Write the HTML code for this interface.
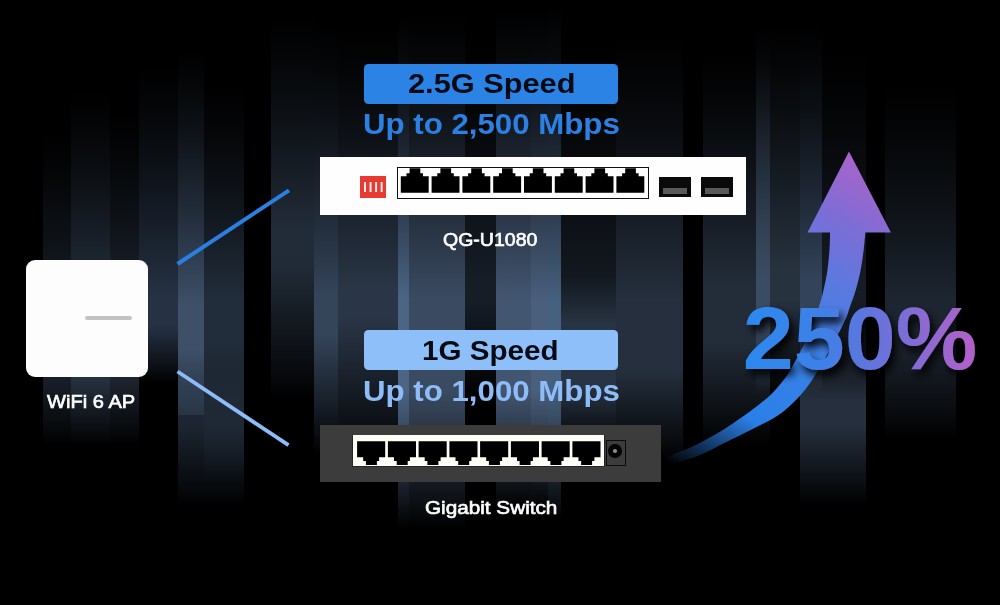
<!DOCTYPE html>
<html><head><meta charset="utf-8"><title>2.5G vs 1G Speed</title>
<style>
html,body{margin:0;padding:0;background:#000;}
body{width:1000px;height:605px;overflow:hidden;position:relative;font-family:"Liberation Sans",sans-serif;}
.bar{position:absolute;}
.abs{position:absolute;}
.lbl{position:absolute;transform-origin:0 0;color:#fff;font-size:19px;line-height:19px;white-space:nowrap;-webkit-text-stroke:0.65px #fff;}
.pill{position:absolute;left:363.5px;width:254.7px;border-radius:4.5px;}
.ptxt{position:absolute;font-weight:bold;white-space:nowrap;transform-origin:0 0;}
svg{position:absolute;left:0;top:0;}
</style></head><body>
<div id="bg">
<div class="bar" style="left:43px;width:28px;top:130px;height:315px;background:linear-gradient(to bottom,rgba(24,31,41,0.000) 0.0px,rgba(24,31,41,0.097) 28.3px,rgba(24,31,41,0.240) 56.7px,rgba(24,31,41,0.406) 85.0px,rgba(24,31,41,0.590) 113.3px,rgba(24,31,41,0.789) 141.7px,rgba(24,31,41,1.000) 170.0px,rgba(24,31,41,1) 250.0px,rgba(24,31,41,0.841) 260.8px,rgba(24,31,41,0.680) 271.7px,rgba(24,31,41,0.518) 282.5px,rgba(24,31,41,0.352) 293.3px,rgba(24,31,41,0.182) 304.2px,rgba(24,31,41,0.000) 315.0px)"></div>
<div class="bar" style="left:71px;width:39px;top:90px;height:355px;background:linear-gradient(to bottom,rgba(38,49,63,0.000) 0.0px,rgba(38,49,63,0.097) 35.0px,rgba(38,49,63,0.240) 70.0px,rgba(38,49,63,0.406) 105.0px,rgba(38,49,63,0.590) 140.0px,rgba(38,49,63,0.789) 175.0px,rgba(38,49,63,1.000) 210.0px,rgba(38,49,63,1) 290.0px,rgba(38,49,63,0.841) 300.8px,rgba(38,49,63,0.680) 311.7px,rgba(38,49,63,0.518) 322.5px,rgba(38,49,63,0.352) 333.3px,rgba(38,49,63,0.182) 344.2px,rgba(38,49,63,0.000) 355.0px)"></div>
<div class="bar" style="left:110px;width:29px;top:110px;height:335px;background:linear-gradient(to bottom,rgba(28,36,47,0.000) 0.0px,rgba(28,36,47,0.097) 31.7px,rgba(28,36,47,0.240) 63.3px,rgba(28,36,47,0.406) 95.0px,rgba(28,36,47,0.590) 126.7px,rgba(28,36,47,0.789) 158.3px,rgba(28,36,47,1.000) 190.0px,rgba(28,36,47,1) 270.0px,rgba(28,36,47,0.841) 280.8px,rgba(28,36,47,0.680) 291.7px,rgba(28,36,47,0.518) 302.5px,rgba(28,36,47,0.352) 313.3px,rgba(28,36,47,0.182) 324.2px,rgba(28,36,47,0.000) 335.0px)"></div>
<div class="bar" style="left:139px;width:39px;top:65px;height:318px;background:linear-gradient(to bottom,rgba(38,50,68,0.000) 0.0px,rgba(38,50,68,0.097) 39.2px,rgba(38,50,68,0.240) 78.3px,rgba(38,50,68,0.406) 117.5px,rgba(38,50,68,0.590) 156.7px,rgba(38,50,68,0.789) 195.8px,rgba(38,50,68,1.000) 235.0px,rgba(38,50,68,1) 260.0px,rgba(38,50,68,0.841) 269.7px,rgba(38,50,68,0.680) 279.3px,rgba(38,50,68,0.518) 289.0px,rgba(38,50,68,0.352) 298.7px,rgba(38,50,68,0.182) 308.3px,rgba(38,50,68,0.000) 318.0px)"></div>
<div class="bar" style="left:178px;width:66px;top:300px;height:205px;background:linear-gradient(to bottom,rgba(28,37,49,0.000) 0.0px,rgba(28,37,49,0.097) 16.7px,rgba(28,37,49,0.240) 33.3px,rgba(28,37,49,0.406) 50.0px,rgba(28,37,49,0.590) 66.7px,rgba(28,37,49,0.789) 83.3px,rgba(28,37,49,1.000) 100.0px,rgba(28,37,49,1) 125.0px,rgba(28,37,49,0.841) 138.3px,rgba(28,37,49,0.680) 151.7px,rgba(28,37,49,0.518) 165.0px,rgba(28,37,49,0.352) 178.3px,rgba(28,37,49,0.182) 191.7px,rgba(28,37,49,0.000) 205.0px)"></div>
<div class="bar" style="left:178px;width:26px;top:50px;height:365px;background:linear-gradient(to bottom,rgba(61,80,104,0.000) 0.0px,rgba(61,80,104,0.097) 42.5px,rgba(61,80,104,0.240) 85.0px,rgba(61,80,104,0.406) 127.5px,rgba(61,80,104,0.590) 170.0px,rgba(61,80,104,0.789) 212.5px,rgba(61,80,104,1.000) 255.0px,rgba(61,80,104,1) 300.0px,rgba(61,80,104,0.841) 316.7px,rgba(61,80,104,0.680) 333.3px,rgba(61,80,104,0.518) 350.0px,rgba(61,80,104,0.352) 366.7px,rgba(61,80,104,0.182) 383.3px,rgba(61,80,104,0.000) 400.0px)"></div>
<div class="bar" style="left:204px;width:40px;top:85px;height:395px;background:linear-gradient(to bottom,rgba(34,45,59,0.000) 0.0px,rgba(34,45,59,0.097) 35.8px,rgba(34,45,59,0.240) 71.7px,rgba(34,45,59,0.406) 107.5px,rgba(34,45,59,0.590) 143.3px,rgba(34,45,59,0.789) 179.2px,rgba(34,45,59,1.000) 215.0px,rgba(34,45,59,1) 255.0px,rgba(34,45,59,0.841) 278.3px,rgba(34,45,59,0.680) 301.7px,rgba(34,45,59,0.518) 325.0px,rgba(34,45,59,0.352) 348.3px,rgba(34,45,59,0.182) 371.7px,rgba(34,45,59,0.000) 395.0px)"></div>
<div class="bar" style="left:271px;width:43px;top:15px;height:385px;background:linear-gradient(to bottom,rgba(34,44,57,0.000) 0.0px,rgba(34,44,57,0.097) 35.8px,rgba(34,44,57,0.240) 71.7px,rgba(34,44,57,0.406) 107.5px,rgba(34,44,57,0.590) 143.3px,rgba(34,44,57,0.789) 179.2px,rgba(34,44,57,1.000) 215.0px,rgba(34,44,57,1) 245.0px,rgba(34,44,57,0.841) 268.3px,rgba(34,44,57,0.680) 291.7px,rgba(34,44,57,0.518) 315.0px,rgba(34,44,57,0.352) 338.3px,rgba(34,44,57,0.182) 361.7px,rgba(34,44,57,0.000) 385.0px)"></div>
<div class="bar" style="left:314px;width:24px;top:25px;height:430px;background:linear-gradient(to bottom,rgba(52,68,89,0.000) 0.0px,rgba(52,68,89,0.097) 45.0px,rgba(52,68,89,0.240) 90.0px,rgba(52,68,89,0.406) 135.0px,rgba(52,68,89,0.590) 180.0px,rgba(52,68,89,0.789) 225.0px,rgba(52,68,89,1.000) 270.0px,rgba(52,68,89,1) 310.0px,rgba(52,68,89,0.841) 330.0px,rgba(52,68,89,0.680) 350.0px,rgba(52,68,89,0.518) 370.0px,rgba(52,68,89,0.352) 390.0px,rgba(52,68,89,0.182) 410.0px,rgba(52,68,89,0.000) 430.0px)"></div>
<div class="bar" style="left:338px;width:60px;top:30px;height:435px;background:linear-gradient(to bottom,rgba(42,54,71,0.000) 0.0px,rgba(42,54,71,0.097) 43.3px,rgba(42,54,71,0.240) 86.7px,rgba(42,54,71,0.406) 130.0px,rgba(42,54,71,0.590) 173.3px,rgba(42,54,71,0.789) 216.7px,rgba(42,54,71,1.000) 260.0px,rgba(42,54,71,1) 285.0px,rgba(42,54,71,0.841) 310.0px,rgba(42,54,71,0.680) 335.0px,rgba(42,54,71,0.518) 360.0px,rgba(42,54,71,0.352) 385.0px,rgba(42,54,71,0.182) 410.0px,rgba(42,54,71,0.000) 435.0px)"></div>
<div class="bar" style="left:398px;width:11px;top:15px;height:513px;background:linear-gradient(to bottom,rgba(76,101,133,0.000) 0.0px,rgba(76,101,133,0.097) 47.5px,rgba(76,101,133,0.240) 95.0px,rgba(76,101,133,0.406) 142.5px,rgba(76,101,133,0.590) 190.0px,rgba(76,101,133,0.789) 237.5px,rgba(76,101,133,1.000) 285.0px,rgba(76,101,133,1) 375.0px,rgba(76,101,133,0.841) 398.0px,rgba(76,101,133,0.680) 421.0px,rgba(76,101,133,0.518) 444.0px,rgba(76,101,133,0.352) 467.0px,rgba(76,101,133,0.182) 490.0px,rgba(76,101,133,0.000) 513.0px)"></div>
<div class="bar" style="left:409px;width:56px;top:15px;height:513px;background:linear-gradient(to bottom,rgba(58,75,97,0.000) 0.0px,rgba(58,75,97,0.097) 47.5px,rgba(58,75,97,0.240) 95.0px,rgba(58,75,97,0.406) 142.5px,rgba(58,75,97,0.590) 190.0px,rgba(58,75,97,0.789) 237.5px,rgba(58,75,97,1.000) 285.0px,rgba(58,75,97,1) 375.0px,rgba(58,75,97,0.841) 398.0px,rgba(58,75,97,0.680) 421.0px,rgba(58,75,97,0.518) 444.0px,rgba(58,75,97,0.352) 467.0px,rgba(58,75,97,0.182) 490.0px,rgba(58,75,97,0.000) 513.0px)"></div>
<div class="bar" style="left:465px;width:31px;top:40px;height:360px;background:linear-gradient(to bottom,rgba(22,29,39,0.000) 0.0px,rgba(22,29,39,0.097) 40.0px,rgba(22,29,39,0.240) 80.0px,rgba(22,29,39,0.406) 120.0px,rgba(22,29,39,0.590) 160.0px,rgba(22,29,39,0.789) 200.0px,rgba(22,29,39,1.000) 240.0px,rgba(22,29,39,1) 260.0px,rgba(22,29,39,0.841) 276.7px,rgba(22,29,39,0.680) 293.3px,rgba(22,29,39,0.518) 310.0px,rgba(22,29,39,0.352) 326.7px,rgba(22,29,39,0.182) 343.3px,rgba(22,29,39,0.000) 360.0px)"></div>
<div class="bar" style="left:496px;width:35px;top:10px;height:498px;background:linear-gradient(to bottom,rgba(67,86,113,0.000) 0.0px,rgba(67,86,113,0.097) 48.3px,rgba(67,86,113,0.240) 96.7px,rgba(67,86,113,0.406) 145.0px,rgba(67,86,113,0.590) 193.3px,rgba(67,86,113,0.789) 241.7px,rgba(67,86,113,1.000) 290.0px,rgba(67,86,113,1) 380.0px,rgba(67,86,113,0.841) 399.7px,rgba(67,86,113,0.680) 419.3px,rgba(67,86,113,0.518) 439.0px,rgba(67,86,113,0.352) 458.7px,rgba(67,86,113,0.182) 478.3px,rgba(67,86,113,0.000) 498.0px)"></div>
<div class="bar" style="left:531px;width:17px;top:10px;height:498px;background:linear-gradient(to bottom,rgba(74,95,124,0.000) 0.0px,rgba(74,95,124,0.097) 48.3px,rgba(74,95,124,0.240) 96.7px,rgba(74,95,124,0.406) 145.0px,rgba(74,95,124,0.590) 193.3px,rgba(74,95,124,0.789) 241.7px,rgba(74,95,124,1.000) 290.0px,rgba(74,95,124,1) 380.0px,rgba(74,95,124,0.841) 399.7px,rgba(74,95,124,0.680) 419.3px,rgba(74,95,124,0.518) 439.0px,rgba(74,95,124,0.352) 458.7px,rgba(74,95,124,0.182) 478.3px,rgba(74,95,124,0.000) 498.0px)"></div>
<div class="bar" style="left:548px;width:13px;top:5px;height:515px;background:linear-gradient(to bottom,rgba(70,96,127,0.000) 0.0px,rgba(70,96,127,0.097) 49.2px,rgba(70,96,127,0.240) 98.3px,rgba(70,96,127,0.406) 147.5px,rgba(70,96,127,0.590) 196.7px,rgba(70,96,127,0.789) 245.8px,rgba(70,96,127,1.000) 295.0px,rgba(70,96,127,1) 385.0px,rgba(70,96,127,0.841) 406.7px,rgba(70,96,127,0.680) 428.3px,rgba(70,96,127,0.518) 450.0px,rgba(70,96,127,0.352) 471.7px,rgba(70,96,127,0.182) 493.3px,rgba(70,96,127,0.000) 515.0px)"></div>
<div class="bar" style="left:561px;width:55px;top:40px;height:380px;background:linear-gradient(to bottom,rgba(20,26,34,0.000) 0.0px,rgba(20,26,34,0.097) 41.7px,rgba(20,26,34,0.240) 83.3px,rgba(20,26,34,0.406) 125.0px,rgba(20,26,34,0.590) 166.7px,rgba(20,26,34,0.789) 208.3px,rgba(20,26,34,1.000) 250.0px,rgba(20,26,34,1) 260.0px,rgba(20,26,34,0.841) 280.0px,rgba(20,26,34,0.680) 300.0px,rgba(20,26,34,0.518) 320.0px,rgba(20,26,34,0.352) 340.0px,rgba(20,26,34,0.182) 360.0px,rgba(20,26,34,0.000) 380.0px)"></div>
<div class="bar" style="left:561px;width:55px;top:275px;height:175px;background:linear-gradient(to bottom,rgba(40,52,67,0.000) 0.0px,rgba(40,52,67,0.097) 7.8px,rgba(40,52,67,0.240) 15.7px,rgba(40,52,67,0.406) 23.5px,rgba(40,52,67,0.590) 31.3px,rgba(40,52,67,0.789) 39.2px,rgba(40,52,67,1.000) 47.0px,rgba(40,52,67,1) 110.0px,rgba(40,52,67,0.841) 120.8px,rgba(40,52,67,0.680) 131.7px,rgba(40,52,67,0.518) 142.5px,rgba(40,52,67,0.352) 153.3px,rgba(40,52,67,0.182) 164.2px,rgba(40,52,67,0.000) 175.0px)"></div>
<div class="bar" style="left:616px;width:67px;top:35px;height:425px;background:linear-gradient(to bottom,rgba(37,47,61,0.000) 0.0px,rgba(37,47,61,0.097) 44.2px,rgba(37,47,61,0.240) 88.3px,rgba(37,47,61,0.406) 132.5px,rgba(37,47,61,0.590) 176.7px,rgba(37,47,61,0.789) 220.8px,rgba(37,47,61,1.000) 265.0px,rgba(37,47,61,1) 335.0px,rgba(37,47,61,0.841) 350.0px,rgba(37,47,61,0.680) 365.0px,rgba(37,47,61,0.518) 380.0px,rgba(37,47,61,0.352) 395.0px,rgba(37,47,61,0.182) 410.0px,rgba(37,47,61,0.000) 425.0px)"></div>
<div class="bar" style="left:703px;width:53px;top:50px;height:395px;background:linear-gradient(to bottom,rgba(35,45,58,0.000) 0.0px,rgba(35,45,58,0.097) 40.0px,rgba(35,45,58,0.240) 80.0px,rgba(35,45,58,0.406) 120.0px,rgba(35,45,58,0.590) 160.0px,rgba(35,45,58,0.789) 200.0px,rgba(35,45,58,1.000) 240.0px,rgba(35,45,58,1) 290.0px,rgba(35,45,58,0.841) 307.5px,rgba(35,45,58,0.680) 325.0px,rgba(35,45,58,0.518) 342.5px,rgba(35,45,58,0.352) 360.0px,rgba(35,45,58,0.182) 377.5px,rgba(35,45,58,0.000) 395.0px)"></div>
<div class="bar" style="left:756px;width:14px;top:50px;height:395px;background:linear-gradient(to bottom,rgba(35,45,58,0.000) 0.0px,rgba(35,45,58,0.097) 40.0px,rgba(35,45,58,0.240) 80.0px,rgba(35,45,58,0.406) 120.0px,rgba(35,45,58,0.590) 160.0px,rgba(35,45,58,0.789) 200.0px,rgba(35,45,58,1.000) 240.0px,rgba(35,45,58,1) 290.0px,rgba(35,45,58,0.841) 307.5px,rgba(35,45,58,0.680) 325.0px,rgba(35,45,58,0.518) 342.5px,rgba(35,45,58,0.352) 360.0px,rgba(35,45,58,0.182) 377.5px,rgba(35,45,58,0.000) 395.0px)"></div>
<div class="bar" style="left:756px;width:14px;top:25px;height:370px;background:linear-gradient(to bottom,rgba(58,76,99,0.000) 0.0px,rgba(58,76,99,0.097) 42.5px,rgba(58,76,99,0.240) 85.0px,rgba(58,76,99,0.406) 127.5px,rgba(58,76,99,0.590) 170.0px,rgba(58,76,99,0.789) 212.5px,rgba(58,76,99,1.000) 255.0px,rgba(58,76,99,1) 275.0px,rgba(58,76,99,0.841) 290.8px,rgba(58,76,99,0.680) 306.7px,rgba(58,76,99,0.518) 322.5px,rgba(58,76,99,0.352) 338.3px,rgba(58,76,99,0.182) 354.2px,rgba(58,76,99,0.000) 370.0px)"></div>
<div class="bar" style="left:770px;width:30px;top:23px;height:372px;background:linear-gradient(to bottom,rgba(39,50,63,0.000) 0.0px,rgba(39,50,63,0.097) 41.2px,rgba(39,50,63,0.240) 82.3px,rgba(39,50,63,0.406) 123.5px,rgba(39,50,63,0.590) 164.7px,rgba(39,50,63,0.789) 205.8px,rgba(39,50,63,1.000) 247.0px,rgba(39,50,63,1) 277.0px,rgba(39,50,63,0.841) 292.8px,rgba(39,50,63,0.680) 308.7px,rgba(39,50,63,0.518) 324.5px,rgba(39,50,63,0.352) 340.3px,rgba(39,50,63,0.182) 356.2px,rgba(39,50,63,0.000) 372.0px)"></div>
<div class="bar" style="left:800px;width:66px;top:290px;height:215px;background:linear-gradient(to bottom,rgba(37,47,61,0.000) 0.0px,rgba(37,47,61,0.097) 18.3px,rgba(37,47,61,0.240) 36.7px,rgba(37,47,61,0.406) 55.0px,rgba(37,47,61,0.590) 73.3px,rgba(37,47,61,0.789) 91.7px,rgba(37,47,61,1.000) 110.0px,rgba(37,47,61,1) 135.0px,rgba(37,47,61,0.841) 148.3px,rgba(37,47,61,0.680) 161.7px,rgba(37,47,61,0.518) 175.0px,rgba(37,47,61,0.352) 188.3px,rgba(37,47,61,0.182) 201.7px,rgba(37,47,61,0.000) 215.0px)"></div>
<div class="bar" style="left:800px;width:22px;top:25px;height:370px;background:linear-gradient(to bottom,rgba(51,67,90,0.000) 0.0px,rgba(51,67,90,0.097) 42.5px,rgba(51,67,90,0.240) 85.0px,rgba(51,67,90,0.406) 127.5px,rgba(51,67,90,0.590) 170.0px,rgba(51,67,90,0.789) 212.5px,rgba(51,67,90,1.000) 255.0px,rgba(51,67,90,1) 285.0px,rgba(51,67,90,0.841) 299.2px,rgba(51,67,90,0.680) 313.3px,rgba(51,67,90,0.518) 327.5px,rgba(51,67,90,0.352) 341.7px,rgba(51,67,90,0.182) 355.8px,rgba(51,67,90,0.000) 370.0px)"></div>
<div class="bar" style="left:822px;width:44px;top:50px;height:350px;background:linear-gradient(to bottom,rgba(22,28,37,0.000) 0.0px,rgba(22,28,37,0.097) 38.3px,rgba(22,28,37,0.240) 76.7px,rgba(22,28,37,0.406) 115.0px,rgba(22,28,37,0.590) 153.3px,rgba(22,28,37,0.789) 191.7px,rgba(22,28,37,1.000) 230.0px,rgba(22,28,37,1) 250.0px,rgba(22,28,37,0.841) 266.7px,rgba(22,28,37,0.680) 283.3px,rgba(22,28,37,0.518) 300.0px,rgba(22,28,37,0.352) 316.7px,rgba(22,28,37,0.182) 333.3px,rgba(22,28,37,0.000) 350.0px)"></div>
<div class="bar" style="left:885px;width:71px;top:85px;height:355px;background:linear-gradient(to bottom,rgba(29,37,48,0.000) 0.0px,rgba(29,37,48,0.097) 35.8px,rgba(29,37,48,0.240) 71.7px,rgba(29,37,48,0.406) 107.5px,rgba(29,37,48,0.590) 143.3px,rgba(29,37,48,0.789) 179.2px,rgba(29,37,48,1.000) 215.0px,rgba(29,37,48,1) 255.0px,rgba(29,37,48,0.841) 271.7px,rgba(29,37,48,0.680) 288.3px,rgba(29,37,48,0.518) 305.0px,rgba(29,37,48,0.352) 321.7px,rgba(29,37,48,0.182) 338.3px,rgba(29,37,48,0.000) 355.0px)"></div>
</div>

<!-- WiFi AP -->
<div class="abs" style="left:26px;top:260px;width:122px;height:117px;background:#fdfdfd;border-radius:9px;"></div>
<div class="abs" style="left:84.5px;top:316px;width:47px;height:4px;border-radius:2px;background:#c2c2c2;"></div>
<div class="lbl" id="l_ap" style="left:47px;top:392px;transform:scaleX(1.058);">WiFi 6 AP</div>

<!-- top pill -->
<div class="pill" style="top:64px;height:40px;background:#2b83e5;"></div>
<div class="ptxt" id="t1" style="left:407.7px;top:68.4px;font-size:27.5px;transform:scaleX(1.118);line-height:32px;color:#060a12;">2.5G Speed</div>
<div class="ptxt" id="t2" style="left:363px;top:107.3px;font-size:29.5px;transform:scaleX(1.0586);line-height:34px;color:#2b80e2;">Up to 2,500 Mbps</div>

<!-- bottom pill -->
<div class="pill" style="top:329.8px;height:40.2px;background:#8fbff9;"></div>
<div class="ptxt" id="t3" style="left:422.1px;top:334.8px;font-size:27.5px;transform:scaleX(1.076);line-height:32px;color:#060a12;">1G Speed</div>
<div class="ptxt" id="t4" style="left:362.8px;top:374.4px;font-size:29.5px;transform:scaleX(1.059);line-height:34px;color:#8ebcf8;">Up to 1,000 Mbps</div>

<!-- top switch -->
<div class="abs" style="left:320px;top:157px;width:426px;height:58px;background:#fefefe;"></div>
<div class="abs" style="left:360px;top:175.8px;width:26.4px;height:22.4px;background:#e73a31;"></div>
<div class="abs" style="left:363.7px;top:181.7px;width:2.1px;height:10.2px;background:#fbe9e7;box-shadow:5.55px 0 0 #fbe9e7,11.1px 0 0 #fbe9e7,16.65px 0 0 #fbe9e7;"></div>
<div class="abs" style="left:396.5px;top:166.8px;width:250.5px;height:30.5px;border:1.3px solid #111;box-sizing:content-box;"></div>
<div class="abs" style="left:659px;top:177px;width:31.5px;height:20px;background:#0a0a0a;"></div>
<div class="abs" style="left:663px;top:187.7px;width:24px;height:6.3px;background:#5a5a5a;"></div>
<div class="abs" style="left:701px;top:177px;width:31.5px;height:20px;background:#0a0a0a;"></div>
<div class="abs" style="left:705px;top:187.7px;width:24px;height:6.3px;background:#5a5a5a;"></div>
<div class="lbl" id="l_qg" style="left:443.4px;top:230px;transform:scaleX(1.027);">QG-U1080</div>

<!-- bottom switch -->
<div class="abs" style="left:320px;top:425px;width:341px;height:57px;background:#3c3c3c;"></div>
<div class="abs" style="left:352px;top:434.5px;width:253px;height:32px;background:#262626;"></div>
<div class="abs" style="left:353px;top:435.3px;width:251.3px;height:30.7px;background:#fffef6;"></div>
<div class="abs" style="left:605.5px;top:440px;width:18px;height:24px;border:1.2px solid #0c0c0c;background:#3c3c3c;"></div>
<div class="abs" style="left:608px;top:444px;width:13.6px;height:13.6px;border-radius:50%;background:#050505;"></div>
<div class="abs" style="left:613px;top:449px;width:3.6px;height:3.6px;border-radius:50%;background:#8a8a8a;"></div>
<div class="lbl" id="l_gs" style="left:425.1px;top:497.6px;transform:scaleX(1.09);">Gigabit Switch</div>

<svg width="1000" height="605" viewBox="0 0 1000 605">
<defs>
<linearGradient id="ag" gradientUnits="userSpaceOnUse" x1="668" y1="462" x2="850" y2="150">
<stop offset="0" stop-color="#2a80e8" stop-opacity="0"/>
<stop offset="0.22" stop-color="#2a80e8" stop-opacity="1"/>
<stop offset="0.45" stop-color="#3a80e6"/>
<stop offset="0.65" stop-color="#587ae0"/>
<stop offset="0.82" stop-color="#7d6dd6"/>
<stop offset="1" stop-color="#ab63c8"/>
</linearGradient>
<linearGradient id="tg" gradientUnits="userSpaceOnUse" x1="742" y1="0" x2="977" y2="0">
<stop offset="0" stop-color="#2a8af0"/>
<stop offset="0.35" stop-color="#3f80e6"/>
<stop offset="0.6" stop-color="#6a72da"/>
<stop offset="1" stop-color="#b560c8"/>
</linearGradient>
<filter id="sh" x="-10%" y="-20%" width="120%" height="150%">
<feGaussianBlur in="SourceAlpha" stdDeviation="4.5"/>
<feOffset dx="3.5" dy="5.5"/>
<feComponentTransfer><feFuncA type="linear" slope="0.95"/></feComponentTransfer>
<feMerge><feMergeNode/><feMergeNode in="SourceGraphic"/></feMerge>
</filter>
</defs>
<path d="M409.6,168.3H420.3V173.2H423.0V176.3H428.7V192.7H400.8V176.3H406.5V173.2H409.6ZM440.4,168.3H451.1V173.2H453.8V176.3H459.5V192.7H431.6V176.3H437.3V173.2H440.4ZM471.2,168.3H481.9V173.2H484.6V176.3H490.3V192.7H462.4V176.3H468.1V173.2H471.2ZM502.0,168.3H512.7V173.2H515.4V176.3H521.1V192.7H493.2V176.3H498.9V173.2H502.0ZM532.8,168.3H543.5V173.2H546.2V176.3H551.9V192.7H524.0V176.3H529.7V173.2H532.8ZM563.6,168.3H574.3V173.2H577.0V176.3H582.7V192.7H554.8V176.3H560.5V173.2H563.6ZM594.4,168.3H605.1V173.2H607.8V176.3H613.5V192.7H585.6V176.3H591.3V173.2H594.4ZM625.2,168.3H635.9V173.2H638.6V176.3H644.3V192.7H616.4V176.3H622.1V173.2H625.2Z" fill="#000"/>
<path d="M357.1,441.2H385.2V457.2H379.1V461.0H376.9V464.9H365.9V461.0H363.2V457.2H357.1ZM387.9,441.2H416.0V457.2H409.9V461.0H407.7V464.9H396.7V461.0H394.0V457.2H387.9ZM418.6,441.2H446.7V457.2H440.6V461.0H438.4V464.9H427.4V461.0H424.7V457.2H418.6ZM449.4,441.2H477.5V457.2H471.4V461.0H469.2V464.9H458.2V461.0H455.5V457.2H449.4ZM480.1,441.2H508.2V457.2H502.1V461.0H499.9V464.9H488.9V461.0H486.2V457.2H480.1ZM510.9,441.2H539.0V457.2H532.9V461.0H530.6V464.9H519.6V461.0H517.0V457.2H510.9ZM541.6,441.2H569.7V457.2H563.6V461.0H561.4V464.9H550.4V461.0H547.7V457.2H541.6ZM572.4,441.2H600.5V457.2H594.4V461.0H592.1V464.9H581.1V461.0H578.5V457.2H572.4Z" fill="#000"/>
<line x1="177.5" y1="264" x2="289" y2="190.3" stroke="#2b7fe0" stroke-width="4"/>
<line x1="177.5" y1="371.5" x2="288.5" y2="445.2" stroke="#8ebcf8" stroke-width="3.8"/>
<path d="M849,151.4 L890.9,232.5 L865.4,232.5 C865.1,235.4 864.5,243.3 863.7,249.8 C862.9,256.3 861.8,264.4 860.4,271.3 C859.0,278.2 857.2,285.1 855.4,291.2 C853.6,297.3 851.2,303.0 849.6,307.7 C848.0,312.4 848.4,312.9 845.5,319.3 C842.6,325.7 836.8,337.1 832.0,346.0 C827.2,354.9 821.0,365.4 816.7,372.5 C812.4,379.6 810.1,383.3 806.1,388.4 C802.1,393.5 797.8,398.3 792.9,402.9 C788.0,407.5 783.4,411.9 777.0,416.1 C770.6,420.3 763.5,423.5 754.7,428.0 C745.9,432.5 733.5,438.4 724.4,442.9 C715.3,447.4 708.4,451.5 700.0,455.0 C691.6,458.5 680.3,461.5 674.0,463.7 C667.7,465.9 664.0,467.3 662.0,468.0 L660,460 C662.1,459.2 666.0,457.7 672.4,455.0 C678.8,452.3 689.7,448.1 698.4,443.8 C707.1,439.5 717.5,433.2 724.4,429.0 C731.3,424.8 734.8,422.2 740.0,418.5 C745.2,414.8 750.6,411.0 755.9,406.9 C761.2,402.8 766.6,398.8 771.7,393.7 C776.8,388.6 782.3,382.0 786.3,376.5 C790.3,371.0 791.6,368.0 795.6,360.6 C799.6,353.2 805.9,341.6 810.0,332.0 C814.1,322.4 817.9,310.2 820.2,302.8 C822.5,295.4 822.8,293.1 824.0,287.9 C825.2,282.6 826.4,277.6 827.3,271.3 C828.2,265.0 829.0,256.3 829.5,249.8 C830.0,243.3 830.0,235.4 830.1,232.5 L807.5,232.5 Z" fill="url(#ag)"/>
<text id="pct" x="742.7" y="368.6" font-family="'Liberation Sans', sans-serif" font-weight="bold" font-size="89" textLength="234.5" lengthAdjust="spacingAndGlyphs" fill="url(#tg)" filter="url(#sh)">250%</text>
</svg>
</body></html>
